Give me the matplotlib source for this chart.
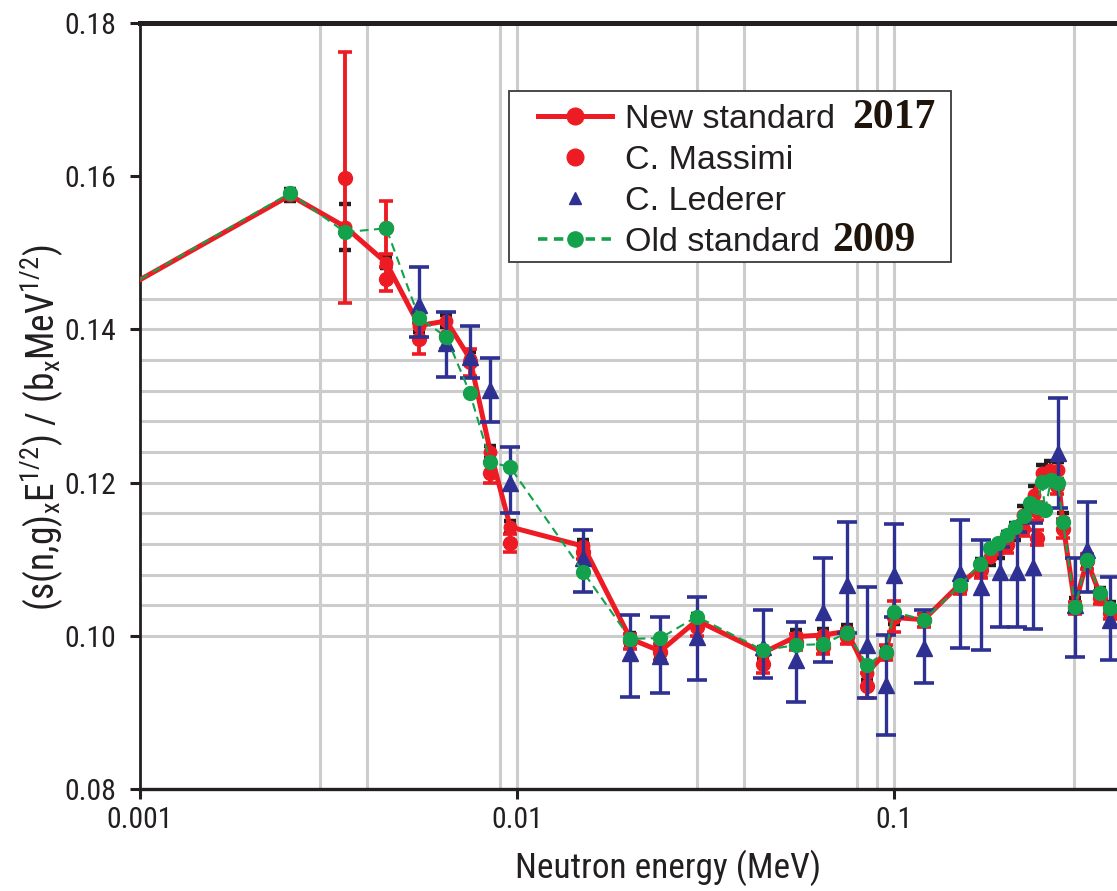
import matplotlib
matplotlib.use("Agg")
import matplotlib.pyplot as plt
from matplotlib import font_manager as fm
from matplotlib.font_manager import FontProperties
from matplotlib.lines import Line2D
from matplotlib.patches import Rectangle
from matplotlib.ticker import FixedLocator, FixedFormatter, NullFormatter
import numpy as np

# ---- data -------------------------------------------------------------
# New standard 2017 (energy in MeV, value, uncertainty)
new_e = [0.0008, 0.0025, 0.0035, 0.0045, 0.0055, 0.0065, 0.0075, 0.0085, 0.0096,
         0.015, 0.020, 0.024, 0.030, 0.045, 0.055, 0.065, 0.075, 0.085, 0.095,
         0.100, 0.120, 0.150, 0.170, 0.180, 0.190, 0.200, 0.210, 0.220, 0.235,
         0.247, 0.260, 0.272, 0.280, 0.302, 0.325, 0.352, 0.374, 0.420]
new_v = [0.1438, 0.1575, 0.1534, 0.1487, 0.1405, 0.1411, 0.1362, 0.1240, 0.1142,
         0.1117, 0.0996, 0.0980, 0.1020, 0.0978, 0.0999, 0.1001, 0.1006, 0.0952, 0.0978,
         0.1024, 0.1021, 0.1068, 0.1090, 0.1103, 0.1113, 0.1124, 0.1136, 0.1158, 0.1184,
         0.1212, 0.1217, 0.1216, 0.1150, 0.1040, 0.1098, 0.1054, 0.1035, 0.1025]
new_err = [0.0008, 0.0008, 0.0030, 0.0007, 0.0008, 0.0008, 0.0008, 0.0008, 0.0008,
           0.0008, 0.0008, 0.0008, 0.0008, 0.0008, 0.0008, 0.0008, 0.0008, 0.0010, 0.0008,
           0.0008, 0.0008, 0.0008, 0.0010, 0.0011, 0.0011, 0.0011, 0.0011, 0.0011, 0.0011,
           0.0011, 0.0011, 0.0011, 0.0010, 0.0009, 0.0009, 0.0009, 0.0009, 0.0009]

# C. Massimi
mas_e = [0.0035, 0.0045, 0.0045, 0.0055, 0.0065, 0.0075, 0.0085, 0.0096, 0.015,
         0.020, 0.024, 0.030, 0.045, 0.055, 0.065, 0.075, 0.085, 0.095, 0.100,
         0.120, 0.150, 0.170, 0.200, 0.220, 0.2395, 0.2395, 0.270, 0.280, 0.302,
         0.325, 0.352, 0.374]
mas_v = [0.1598, 0.1466, 0.1533, 0.1388, 0.1392, 0.1357, 0.1213, 0.1121, 0.1110,
         0.0993, 0.0979, 0.1012, 0.0963, 0.0992, 0.0986, 0.0999, 0.0935, 0.0978, 0.1025,
         0.1020, 0.1063, 0.1086, 0.1118, 0.1140, 0.1128, 0.1163, 0.1195, 0.1140, 0.1036,
         0.1097, 0.1050, 0.1030]
mas_err = [0.0164, 0.0016, 0.0034, 0.0020, 0.0018, 0.0018, 0.0014, 0.0012, 0.0010,
           0.0010, 0.0010, 0.0012, 0.0012, 0.0010, 0.0010, 0.0010, 0.0016, 0.0010, 0.0020,
           0.0008, 0.0008, 0.0010, 0.0010, 0.0010, 0.0010, 0.0012, 0.0010, 0.0012, 0.0008,
           0.0010, 0.0008, 0.0008]

# C. Lederer (value, lower and upper end of the error bar)
led_e = [0.0055, 0.0065, 0.0075, 0.0085, 0.0096, 0.015, 0.020, 0.024, 0.030,
         0.045, 0.055, 0.065, 0.075, 0.085, 0.095, 0.100, 0.120, 0.150, 0.170,
         0.191, 0.212, 0.234, 0.272, 0.302, 0.325, 0.374]
led_v = [0.1432, 0.1382, 0.1364, 0.1321, 0.1200, 0.1102, 0.0978, 0.0973, 0.0998,
         0.0985, 0.0968, 0.1031, 0.1066, 0.0988, 0.0936, 0.1079, 0.0984, 0.1082, 0.1064,
         0.1083, 0.1083, 0.1090, 0.1238, 0.1040, 0.1112, 0.1021]
led_lo = [0.1390, 0.1338, 0.1337, 0.1279, 0.1160, 0.1057, 0.0920, 0.0925, 0.0942,
          0.0945, 0.0914, 0.0966, 0.1004, 0.0919, 0.0871, 0.1025, 0.0938, 0.0984, 0.0982,
          0.1011, 0.1011, 0.1009, 0.1167, 0.0972, 0.1057, 0.0968]
led_hi = [0.1481, 0.1423, 0.1404, 0.1363, 0.1246, 0.1138, 0.1027, 0.1025, 0.1051,
          0.1034, 0.1018, 0.1102, 0.1149, 0.1064, 0.1001, 0.1146, 0.1034, 0.1151, 0.1125,
          0.1116, 0.1135, 0.1147, 0.1310, 0.1102, 0.1175, 0.1077]

# Old standard 2009
old_e = [0.0008, 0.0025, 0.0035, 0.0045, 0.0055, 0.0065, 0.0075, 0.0085, 0.0096,
         0.015, 0.020, 0.024, 0.030, 0.045, 0.055, 0.065, 0.075, 0.085, 0.095,
         0.100, 0.120, 0.150, 0.169, 0.180, 0.189, 0.1995, 0.2095, 0.221, 0.2296,
         0.2395, 0.247, 0.2517, 0.2609, 0.2723, 0.2807, 0.302, 0.325, 0.352, 0.374, 0.420]
old_v = [0.1438, 0.1578, 0.1527, 0.1532, 0.1415, 0.1390, 0.1317, 0.1227, 0.1220,
         0.1083, 0.0996, 0.0997, 0.1025, 0.0981, 0.0988, 0.0989, 0.1004, 0.0962, 0.0979,
         0.1031, 0.1021, 0.1066, 0.1094, 0.1115, 0.1121, 0.1132, 0.1142, 0.1156, 0.1173,
         0.1168, 0.1201, 0.1164, 0.1203, 0.1199, 0.1149, 0.1038, 0.1099, 0.1056, 0.1036, 0.1025]

# axis ticks and grid positions
x_ticks = [0.001, 0.01, 0.1]
x_ticklabels = ["0.001", "0.01", "0.1"]
y_ticks = [0.08, 0.10, 0.12, 0.14, 0.16, 0.18]
y_ticklabels = ["0.08", "0.10", "0.12", "0.14", "0.16", "0.18"]
x_grid = [0.003, 0.004, 0.009, 0.01, 0.03, 0.04, 0.08, 0.09, 0.1, 0.3]
y_grid = [0.100, 0.104, 0.108, 0.112, 0.116, 0.120, 0.124, 0.128, 0.132, 0.136, 0.140, 0.144]

# ---- style --------------------------------------------------------------
RED = "#ED1C24"
BLUE = "#2E3192"
GREEN = "#13A24B"
INK = "#231F20"
GRID = "#CCCCCC"


def narrow_font():
    """Pick a condensed sans-serif face if one is installed."""
    best = None
    for f in fm.fontManager.ttflist:
        if f.style != "normal" or f.weight not in (400, "normal", "regular", "book"):
            continue
        st = str(f.stretch)
        if f.name in ("Liberation Sans Narrow", "Arial Narrow"):
            rank = 0
        elif f.name == "Roboto Condensed":
            rank = 1
        elif f.name in ("Roboto", "Noto Sans", "Open Sans", "Liberation Sans") and st in ("condensed", "semi-condensed"):
            rank = 2
        else:
            continue
        if best is None or rank < best[0]:
            best = (rank, f.fname)
    if best is not None:
        return FontProperties(fname=best[1])
    names = {f.name for f in fm.fontManager.ttflist}
    return FontProperties(family="Liberation Sans" if "Liberation Sans" in names else "DejaVu Sans")


names = {f.name for f in fm.fontManager.ttflist}
narrow = narrow_font()
sans = "Liberation Sans" if "Liberation Sans" in names else "DejaVu Sans"
serif = "Liberation Serif" if "Liberation Serif" in names else "DejaVu Serif"

W, H = 1117, 891
fig = plt.figure(figsize=(W / 100, H / 100), dpi=100)
renderer = fig.canvas.get_renderer()


def size_for_width(s, prop, target_px, ref=20.0):
    p = prop.copy()
    p.set_size(ref)
    t = fig.text(0, 0, s, fontproperties=p)
    w = t.get_window_extent(renderer).width
    t.remove()
    return ref * target_px / w


tick_size = min(22.0, size_for_width("0.18", narrow, 52))
xlab_size = min(27.0, size_for_width("Neutron energy (MeV)", narrow, 305))
ylab_text = r"(s(n,g)$_\mathregular{x}$E$^\mathregular{1/2}$) / (b$_\mathregular{x}$MeV$^\mathregular{1/2}$)"
ylab_size = min(27.0, size_for_width(ylab_text, narrow, 520))

ax = fig.add_axes([140 / W, 1 - 789 / H, 977 / W, (789 - 23) / H])
ax.set_xscale("log")
ax.set_xlim(0.001, 0.3905)
ax.set_ylim(0.08, 0.18)

# grid on chosen positions only
ax.xaxis.remove_overlapping_locs = False
ax.yaxis.remove_overlapping_locs = False
ax.xaxis.set_major_locator(FixedLocator(x_ticks))
ax.xaxis.set_major_formatter(FixedFormatter(x_ticklabels))
ax.xaxis.set_minor_locator(FixedLocator(x_grid))
ax.xaxis.set_minor_formatter(NullFormatter())
ax.yaxis.set_major_locator(FixedLocator(y_ticks))
ax.yaxis.set_major_formatter(FixedFormatter(y_ticklabels))
ax.yaxis.set_minor_locator(FixedLocator(y_grid))
ax.yaxis.set_minor_formatter(NullFormatter())
ax.grid(which="minor", color=GRID, lw=2.2)
ax.grid(which="major", visible=False)
ax.set_axisbelow(True)

ax.tick_params(which="minor", length=0)
ax.tick_params(which="major", direction="out", length=7, width=2.2, color=INK)
ax.tick_params(axis="y", which="major", pad=10)
ax.tick_params(axis="x", which="major", pad=5)
for lab in ax.get_xticklabels() + ax.get_yticklabels():
    lab.set_fontproperties(narrow)
    lab.set_fontsize(tick_size)
    lab.set_color(INK)

ax.spines["right"].set_visible(False)
ax.spines["top"].set_linewidth(3.6)
ax.spines["left"].set_linewidth(2.0)
ax.spines["bottom"].set_linewidth(2.4)
for s in ("top", "left", "bottom"):
    ax.spines[s].set_color(INK)

# ---- series -------------------------------------------------------------
ax.errorbar(new_e, new_v, yerr=new_err, fmt="none", ecolor=INK,
            elinewidth=1.5, capsize=4.5, capthick=3.2, zorder=2)
ax.plot(new_e, new_v, color=RED, lw=3.6, marker="o", ms=9, mfc=RED, mec=RED,
        zorder=3)
ax.errorbar(mas_e, mas_v, yerr=mas_err, fmt="o", color=RED, ms=10,
            elinewidth=2.8, capsize=5, capthick=2.6, zorder=4)
led_v_arr = np.array(led_v)
led_yerr = [led_v_arr - np.array(led_lo), np.array(led_hi) - led_v_arr]
ax.errorbar(led_e, led_v, yerr=led_yerr, fmt="^", color=BLUE, ms=11,
            elinewidth=2.4, capsize=7, capthick=2.6, zorder=5)
ax.plot(old_e, old_v, color=GREEN, lw=1.5, ls=(0, (4.2, 2.6)), marker="o",
        ms=10, mfc=GREEN, mec=GREEN, zorder=6)

# ---- axis titles --------------------------------------------------------
fig.text(668 / W, 1 - 868 / H, "Neutron energy (MeV)", ha="center", va="center",
         fontproperties=narrow, fontsize=xlab_size, color=INK)
fig.text(42 / W, 1 - 428 / H, ylab_text, rotation=90, ha="center", va="center",
         fontproperties=narrow, fontsize=ylab_size, color=INK)

# ---- legend -------------------------------------------------------------
box = Rectangle((509 / W, 1 - 262 / H), (951 - 509) / W, (262 - 91) / H,
                transform=fig.transFigure, facecolor="white", edgecolor="#3A3A3A",
                lw=1.3, zorder=7, clip_on=False)
ax.add_patch(box)

handles = [
    Line2D([], [], color=RED, lw=3.6, marker="o", ms=12, mfc=RED, mec=RED),
    Line2D([], [], ls="none", marker="o", ms=12, mfc=RED, mec=RED),
    Line2D([], [], ls="none", marker="^", ms=9, mfc=BLUE, mec=BLUE),
    Line2D([], [], color=GREEN, lw=2.6, ls=(0, (2.6, 1.8)), marker="o", ms=11,
           mfc=GREEN, mec=GREEN),
]
labels = ["New standard", "C. Massimi", "C. Lederer", "Old standard"]
leg = ax.legend(handles, labels, loc="upper left",
                bbox_to_anchor=(538 / W, 1 - 104 / H), bbox_transform=fig.transFigure,
                frameon=False, borderpad=0, borderaxespad=0, handlelength=2.16,
                handletextpad=0.4, labelspacing=0.29,
                prop=FontProperties(family=sans, size=24.5))
leg.set_zorder(8)
for t in leg.get_texts():
    t.set_color(INK)

fig.canvas.draw()
for t, year, gap in ((leg.get_texts()[0], "2017", 17), (leg.get_texts()[3], "2009", 12)):
    bb = t.get_window_extent()
    _, base = t.get_transform().transform((0, 0))
    fig.text((bb.x1 + gap) / W, base / H, year, ha="left", va="baseline",
             family=serif, weight="bold", fontsize=30, color="#1E140C", zorder=9)

fig.savefig("out.png", dpi=100)
